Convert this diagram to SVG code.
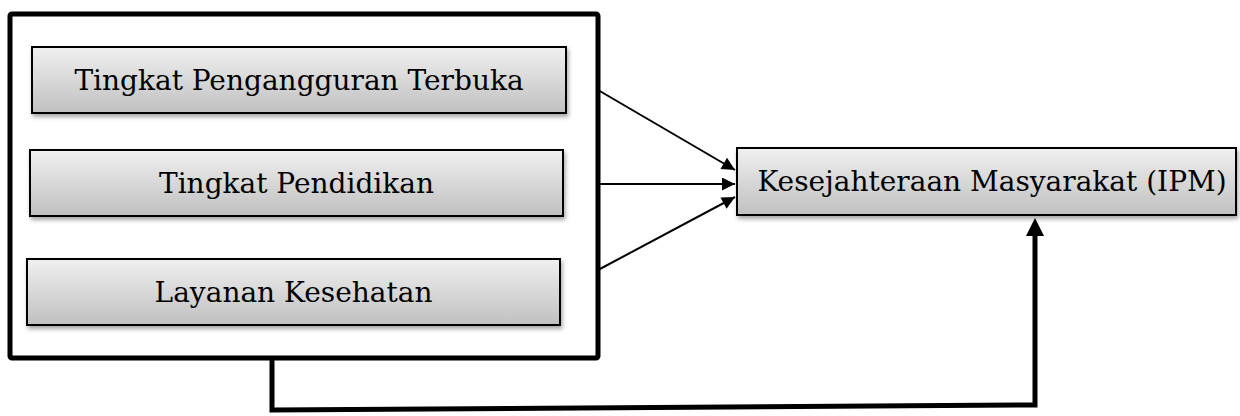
<svg xmlns="http://www.w3.org/2000/svg" width="1240" height="416" viewBox="0 0 1240 416">
  <style>
    .box { fill: url(#boxFill); stroke: #000; stroke-width: 2; filter: url(#shadow); }
    .label { font-family: "DejaVu Serif", "Liberation Serif", serif; font-size: 28px; fill: #000; text-anchor: middle; }
    .thin { fill: none; stroke: #000; stroke-width: 2; }
    .thick { fill: none; stroke: #000; stroke-width: 5; }
  </style>
  <defs>
    <linearGradient id="boxFill" x1="0" y1="0" x2="0" y2="1">
      <stop offset="0" stop-color="#f0f0f0"/>
      <stop offset="1" stop-color="#c0c0c0"/>
    </linearGradient>
    <filter id="shadow" x="-5%" y="-20%" width="110%" height="150%">
      <feDropShadow dx="1.5" dy="3" stdDeviation="2" flood-color="#000" flood-opacity="0.35"/>
    </filter>
    <marker id="arrow" viewBox="0 0 10 10" refX="10" refY="5" markerWidth="15" markerHeight="13" markerUnits="userSpaceOnUse" orient="auto">
      <path d="M0,0 L10,5 L0,10 z" fill="#000"/>
    </marker>
  </defs>

  <!-- frame grouping the three independent variables -->
  <g id="group-frame">
    <rect x="10" y="14" width="588" height="344" rx="2" fill="#fff" stroke="#000" stroke-width="5"/>
  </g>

  <g id="node-pengangguran">
    <rect class="box" x="32" y="47" width="534" height="66"/>
    <text class="label" x="299" y="90">Tingkat Pengangguran Terbuka</text>
  </g>

  <g id="node-pendidikan">
    <rect class="box" x="30" y="150" width="533" height="66"/>
    <text class="label" x="296.5" y="193">Tingkat Pendidikan</text>
  </g>

  <g id="node-kesehatan">
    <rect class="box" x="27" y="259" width="533" height="66"/>
    <text class="label" x="293.5" y="302">Layanan Kesehatan</text>
  </g>

  <g id="node-ipm">
    <rect class="box" x="737" y="148" width="499" height="67"/>
    <text class="label" x="992" y="191">Kesejahteraan Masyarakat (IPM)</text>
  </g>

  <g id="connectors">
    <line class="thin" x1="598" y1="90" x2="735" y2="170" marker-end="url(#arrow)"/>
    <line class="thin" x1="598" y1="184" x2="735" y2="184" marker-end="url(#arrow)"/>
    <line class="thin" x1="598" y1="270" x2="735" y2="197" marker-end="url(#arrow)"/>
    <polyline class="thick" points="272,358 272,410 1035,405 1035,232" stroke-linejoin="miter"/>
    <path d="M1035,218 L1044,236 L1026,236 z" fill="#000"/>
  </g>
</svg>
